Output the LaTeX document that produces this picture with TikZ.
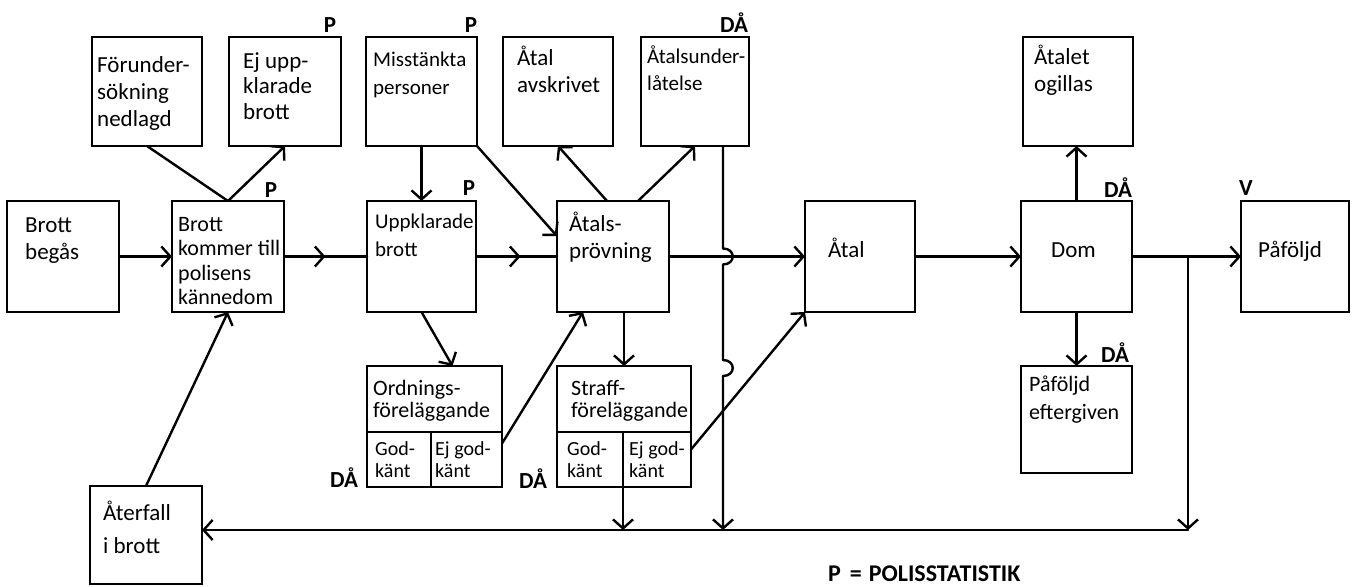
\documentclass[tikz,border=0pt]{standalone}
\usepackage{fontspec}
\setmainfont{Carlito}
\usepackage{graphicx}
\usetikzlibrary{arrows.meta,calc,decorations.markings}
\newcommand{\mystrut}{\rule{0pt}{20pt}}
\begin{document}
\begin{tikzpicture}[x=1pt,y=-1pt,
  box/.style={draw, line width=2.6pt, rectangle, inner sep=0pt, outer sep=0pt},
  txt/.style={anchor=north west, inner sep=0pt, align=left,
    font=\fontsize{23}{27}\selectfont},
  lbl/.style={anchor=base, inner sep=0pt, font=\fontsize{23}{23}\selectfont\bfseries},
  conn/.style={line width=2.4pt, line join=round, line cap=round},
  arr/.style={-{Straight Barb[length=9pt,width=20pt]}},
  mid/.style={postaction={decorate}, decoration={markings,
    mark=at position #1 with {\arrow{Straight Barb[length=9pt,width=20pt]}}}}]
\fill[white] (0,0) rectangle (1356,586);
\useasboundingbox (0,0) rectangle (1356,586);

% main row
\node[box, minimum width=112pt, minimum height=111pt] (begas) at (63,256.5) {};
\node[box, minimum width=112pt, minimum height=111pt] (kommer) at (228,256.5) {};
\node[box, minimum width=109pt, minimum height=111pt] (uppkl) at (421.5,256.5) {};
\node[box, minimum width=112pt, minimum height=111pt] (prov) at (613,256.5) {};
\node[box, minimum width=110pt, minimum height=111pt] (atal) at (860,256.5) {};
\node[box, minimum width=111pt, minimum height=111pt] (dom) at (1076.5,256.5) {};
\node[box, minimum width=108pt, minimum height=111pt] (paf) at (1295,256.5) {};
% top row
\node[box, minimum width=110pt, minimum height=109pt] (fu) at (147,91.5) {};
\node[box, minimum width=112pt, minimum height=109pt] (ejupp) at (285,91.5) {};
\node[box, minimum width=111pt, minimum height=109pt] (miss) at (421.5,91.5) {};
\node[box, minimum width=110pt, minimum height=109pt] (avskr) at (558,91.5) {};
\node[box, minimum width=108pt, minimum height=109pt] (underl) at (695,91.5) {};
\node[box, minimum width=110pt, minimum height=109pt] (ogillas) at (1078,91.5) {};
% lower row
\node[box, minimum width=135pt, minimum height=66pt] (ord) at (434.5,399) {};
\node[box, minimum width=64pt, minimum height=55pt] (ordG) at (399,459.5) {};
\node[box, minimum width=71pt, minimum height=55pt] (ordE) at (466.5,459.5) {};
\node[box, minimum width=134pt, minimum height=66pt] (str) at (624,399) {};
\node[box, minimum width=66pt, minimum height=55pt] (strG) at (590,459.5) {};
\node[box, minimum width=68pt, minimum height=55pt] (strE) at (657,459.5) {};
\node[box, minimum width=111pt, minimum height=107pt] (efterg) at (1076.5,419.5) {};
\node[box, minimum width=112pt, minimum height=98pt] (aterfall) at (146,535) {};

% texts
\node[txt] (tbegas) at ([shift={(18,11)}]begas.north west) {\mystrut Brott\\begås};
\node[txt, font=\fontsize{22}{24.5}\selectfont] (tkommer) at ([shift={(6,10)}]kommer.north west) {\mystrut Brott\\kommer till\\polisens\\kännedom};
\node[txt, font=\fontsize{21}{28}\selectfont] (tuppkl) at ([shift={(8,7)}]uppkl.north west) {\mystrut Uppklarade\\brott};
\node[txt] (tprov) at ([shift={(12,10)}]prov.north west) {\mystrut Åtals-\\prövning};
\node[txt] (tatal) at ([shift={(23,36)}]atal.north west) {\mystrut Åtal};
\node[txt] (tdom) at ([shift={(30,36)}]dom.north west) {\mystrut Dom};
\node[txt] (tpaf) at ([shift={(17,36)}]paf.north west) {\mystrut Påföljd};
\node[txt] (tfu) at ([shift={(5,15)}]fu.north west) {\mystrut Förunder-\\sökning\\nedlagd};
\node[txt, font=\fontsize{23}{25.5}\selectfont] (tejupp) at ([shift={(14,11)}]ejupp.north west) {\mystrut Ej upp-\\klarade\\brott};
\node[txt, font=\fontsize{21}{28}\selectfont] (tmiss) at ([shift={(7,9)}]miss.north west) {\mystrut Misstänkta\\personer};
\node[txt] (tavskr) at ([shift={(14,8)}]avskr.north west) {\mystrut Åtal\\avskrivet};
\node[txt, font=\fontsize{21}{27}\selectfont] (tunderl) at ([shift={(6,6)}]underl.north west) {\mystrut Åtalsunder-\\låtelse};
\node[txt] (togillas) at ([shift={(11,7)}]ogillas.north west) {\mystrut Åtalet\\ogillas};
\node[txt, font=\fontsize{22}{28}\selectfont] (tefterg) at ([shift={(8,5)}]efterg.north west) {\mystrut Påföljd\\eftergiven};
\node[txt, font=\fontsize{23}{33}\selectfont] (taterfall) at ([shift={(13,14)}]aterfall.north west) {\mystrut Återfall\\i brott};
\node[txt, font=\fontsize{22}{22}\selectfont] (tord) at ([shift={(6,9)}]ord.north west) {\mystrut Ordnings-\\föreläggande};
\node[txt, font=\fontsize{20}{22}\selectfont] (tordG) at ([shift={(8,3)}]ordG.north west) {\mystrut God-\\känt};
\node[txt, font=\fontsize{20}{22}\selectfont] (tordE) at ([shift={(4,3)}]ordE.north west) {\mystrut Ej god-\\känt};
\node[txt, font=\fontsize{22}{22}\selectfont] (tstr) at ([shift={(14,9)}]str.north west) {\mystrut Straff-\\föreläggande};
\node[txt, font=\fontsize{20}{22}\selectfont] (tstrG) at ([shift={(10,3)}]strG.north west) {\mystrut God-\\känt};
\node[txt, font=\fontsize{20}{22}\selectfont] (tstrE) at ([shift={(6,3)}]strE.north west) {\mystrut Ej god-\\känt};

% labels
\node[lbl] (lP1) at (330,33) {P};
\node[lbl] (lP2) at (271,197) {P};
\node[lbl] (lP3) at (471,33) {P};
\node[lbl] (lP4) at (469,195) {P};
\node[lbl] (lD1) at (734,33) {DÅ};
\node[lbl] (lD2) at (1118,197) {DÅ};
\node[lbl] (lV) at (1246,195) {V};
\node[lbl] (lD3) at (1115,362) {DÅ};
\node[lbl] (lD4) at (344,487) {DÅ};
\node[lbl] (lD5) at (533,488) {DÅ};
\node[anchor=base west, inner sep=0pt, font=\fontsize{24}{24}\selectfont\bfseries] (legend) at (828,581)
  {P\hspace{9pt}=\hspace{7pt}POLISSTATISTIK};

% helper coordinates
\coordinate (fbR) at (1188,530);
\coordinate (br) at (fbR |- dom.east);
\coordinate (v1) at ($(underl.south east)+(-26,0)$);

% connectors
\draw[conn, arr] (begas.east) -- (kommer.west);
\draw[conn] (fu.south) -- (kommer.north);
\draw[conn, arr] (kommer.north) -- (ejupp.south);
\draw[conn, mid=0.5] (kommer.east) -- (uppkl.west);
\draw[conn, arr] (miss.south) -- (uppkl.north);
\draw[conn, arr] (miss.south east) -- (prov.160);
\draw[conn, mid=0.55] (uppkl.east) -- (prov.west);
\draw[conn, arr] ($(prov.north)+(-6,0)$) -- (avskr.south);
\draw[conn, arr] ($(prov.north)+(25,0)$) -- (underl.south);
\draw[conn, arr] (prov.east) -- (atal.west);
\draw[conn, arr] (atal.east) -- (dom.west);
\draw[conn, arr] (dom.east) -- (paf.west);
\draw[conn, arr] (dom.north) -- (dom.north |- ogillas.south);
\draw[conn, arr] (dom.south) -- (dom.south |- efterg.north);
\draw[conn, arr] (str.north |- prov.south) -- (str.north);
\draw[conn, arr] (uppkl.south) -- ($(ord.north)+(18,0)$);
\draw[conn, arr] ($(ordE.east)+(0,-16)$) -- ($(prov.south west)+(26,0)$);
\draw[conn, arr] ($(strE.east)+(0,-10)$) -- (atal.south west);
\draw[conn, arr] (aterfall.north) -- (kommer.south);
\draw[conn, arr] (br) -- (fbR);
\draw[conn, arr] (fbR) -- (aterfall.east |- fbR);
\draw[conn, arr] (strE.south west) -- (strE.south west |- fbR);
\draw[conn, arr] (v1) -- ($(v1 |- prov.east)+(0,-8)$)
  .. controls +(13,0) and +(13,0) .. ($(v1 |- prov.east)+(0,8)$)
  -- ($(v1 |- str.north)+(0,-6)$)
  .. controls +(13,0) and +(13,0) .. ($(v1 |- str.north)+(0,10)$)
  -- (v1 |- fbR);
\end{tikzpicture}
\end{document}
